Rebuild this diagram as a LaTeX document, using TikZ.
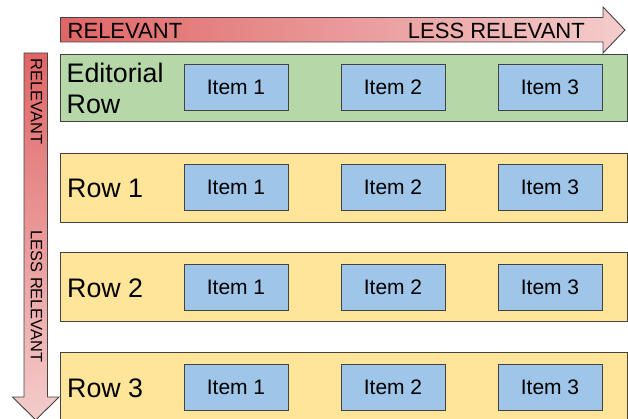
\documentclass[tikz,border=0pt]{standalone}
\usepackage{fontspec}
\setmainfont{Liberation Sans}
\usetikzlibrary{positioning}
\definecolor{relRed}{HTML}{E06666}
\definecolor{relPink}{HTML}{F4CCCC}
\definecolor{rowGreen}{HTML}{B6D7A8}
\definecolor{rowYellow}{HTML}{FFE599}
\definecolor{itemBlue}{HTML}{9FC5E8}
\definecolor{edgeGray}{HTML}{434343}
\tikzstyle{rS}=[rectangle, draw=edgeGray, line width=0.9pt, minimum width=567pt, minimum height=69pt, inner sep=0pt]
\tikzstyle{iS}=[rectangle, draw=edgeGray, line width=0.9pt, fill=itemBlue, minimum width=104pt, minimum height=46pt, inner sep=0pt, font=\fontsize{21}{24}\selectfont]
\tikzstyle{lS}=[inner sep=0pt, anchor=west, align=left, font=\fontsize{26.8}{30.5}\selectfont]
\tikzstyle{aS}=[draw=edgeGray, line width=0.9pt]
\tikzstyle{hT}=[inner sep=0pt, font=\fontsize{22}{24}\selectfont]
\tikzstyle{vT}=[inner sep=0pt, rotate=-90, font=\fontsize{16.4}{20}\selectfont]

\begin{document}
\begin{tikzpicture}[x=1pt,y=-1pt]
                \clip (0,0) rectangle (628,419);

                % relevance arrows
                \draw[aS, left color=relRed, right color=relPink] (60.5,17.5) -- (603,17.5) -- (603,7) -- (625,30) -- (603,53) -- (603,42) -- (60.5,42) -- cycle;
                \draw[aS, top color=relRed, bottom color=relPink] (24,53) -- (47.5,53) -- (47.5,397) -- (59,397) -- (35.75,420) -- (12.5,397) -- (24,397) -- cycle;
                \draw (67.5,30.5) node[hT, anchor=west] (hRel) {RELEVANT};
                \draw (585,30.5) node[hT, anchor=east] (hLess) {LESS RELEVANT};
                \draw (36.5,101.5) node[vT] (vRel) {RELEVANT};
                \draw (36.5,296.5) node[vT] (vLess) {LESS RELEVANT};

                % rows
                \draw (343.5,87.5) node[rS, fill=rowGreen, minimum height=67pt] (eRow) {};
                \draw (343.5,187.5) node[rS, fill=rowYellow] (row1) {};
                \draw (343.5,287) node[rS, fill=rowYellow] (row2) {};
                \draw (343.5,387) node[rS, fill=rowYellow] (row3) {};

                \draw (66.5,88.5) node[lS] (eLab) {Editorial\\Row};
                \draw (67,188) node[lS] (lab1) {Row 1};
                \draw (67,288) node[lS] (lab2) {Row 2};
                \draw (67,388) node[lS] (lab3) {Row 3};

                % items
                \draw (236,87.5) node[iS] (e1) {Item 1};
                \draw (393,87.5) node[iS] (e2) {Item 2};
                \draw (550,87.5) node[iS] (e3) {Item 3};
                \draw (236,187) node[iS] (r11) {Item 1};
                \draw (393,187) node[iS] (r12) {Item 2};
                \draw (550,187) node[iS] (r13) {Item 3};
                \draw (236,287) node[iS] (r21) {Item 1};
                \draw (393,287) node[iS] (r22) {Item 2};
                \draw (550,287) node[iS] (r23) {Item 3};
                \draw (236,387) node[iS] (r31) {Item 1};
                \draw (393,387) node[iS] (r32) {Item 2};
                \draw (550,387) node[iS] (r33) {Item 3};

\end{tikzpicture}
\end{document}
